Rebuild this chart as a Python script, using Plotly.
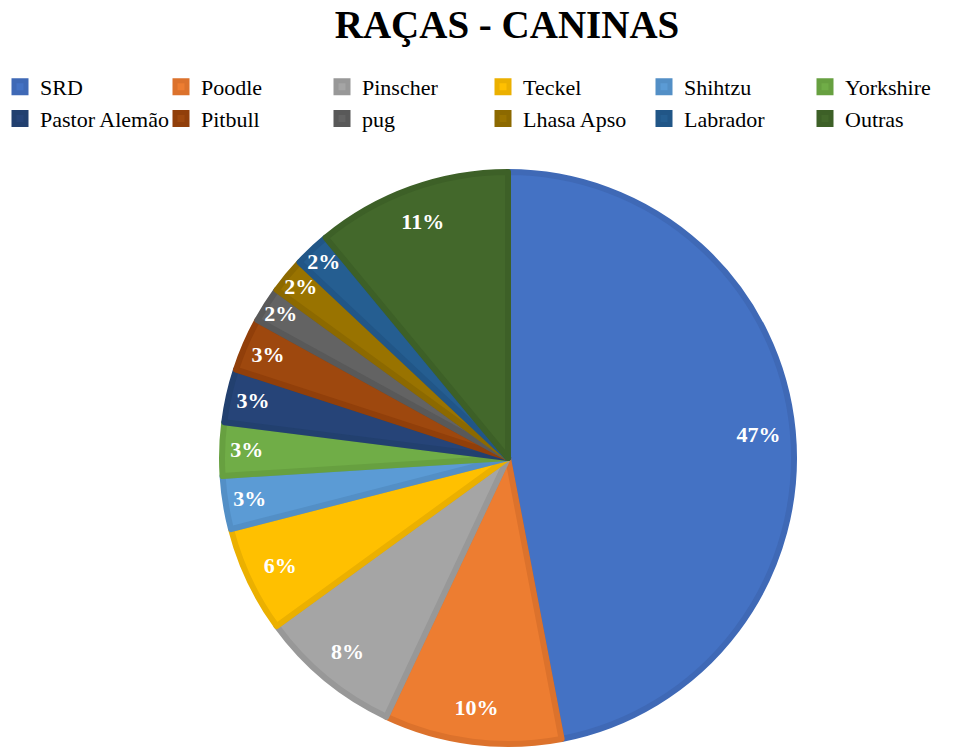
import plotly.graph_objects as go

# Dog breeds and their share of the sample (%)
breeds = ["SRD", "Poodle", "Pinscher", "Teckel", "Shihtzu", "Yorkshire",
          "Pastor Alemão", "Pitbull", "pug", "Lhasa Apso", "Labrador", "Outras"]
shares = [47, 10, 8, 6, 3, 3, 3, 3, 2, 2, 2, 11]

fill_colors = ["#4472C4", "#ED7D31", "#A5A5A5", "#FFC000", "#5B9BD5", "#70AD47",
               "#264478", "#9E480E", "#636363", "#997300", "#255E91", "#43682B"]
edge_colors = ["#3F69B6", "#DC722C", "#989898", "#EBB000", "#538FC6", "#67A040",
               "#22406F", "#913F0A", "#595959", "#8C6900", "#215687", "#3D6027"]

W, H = 962, 748
cx, cy, r = 508, 458, 286
pie_domain = dict(x=[(cx - r) / W, (cx + r) / W], y=[(H - cy - r) / H, (H - cy + r) / H])
label_font = dict(family="Liberation Serif", size=22, color="white", weight="bold")

fig = go.Figure()

# Solid pie with bevel-like darker slice edges
fig.add_trace(go.Pie(
    labels=breeds,
    values=shares,
    sort=False,
    direction="clockwise",
    rotation=0,
    marker=dict(colors=fill_colors, line=dict(color=edge_colors, width=6)),
    textinfo="none",
    domain=pie_domain,
    hoverinfo="label+percent",
))

# Percentage labels set near the rim: same slices drawn as a transparent ring
fig.add_trace(go.Pie(
    labels=breeds,
    values=shares,
    sort=False,
    direction="clockwise",
    rotation=0,
    hole=0.76,
    marker=dict(colors=["rgba(0,0,0,0)"] * len(breeds), line=dict(width=0)),
    texttemplate="%{percent:.0%}",
    textposition="inside",
    insidetextorientation="horizontal",
    textfont=label_font,
    domain=pie_domain,
    showlegend=False,
    hoverinfo="skip",
))

fig.update_layout(
    width=W, height=H,
    margin=dict(l=0, r=0, t=0, b=0),
    paper_bgcolor="white",
    plot_bgcolor="white",
    title=dict(text="<b>RAÇAS - CANINAS</b>", x=507 / W, xanchor="center",
               y=1 - 24 / H, yanchor="middle",
               font=dict(family="Liberation Serif", size=39, color="black")),
    uniformtext=dict(minsize=22, mode="show"),
    legend=dict(orientation="h", x=0, xanchor="left", y=1 - 66 / H, yanchor="top",
                entrywidth=116, entrywidthmode="pixels",
                font=dict(family="Liberation Serif", size=22, color="black"),
                traceorder="normal"),
)

fig.write_html("out.html")
